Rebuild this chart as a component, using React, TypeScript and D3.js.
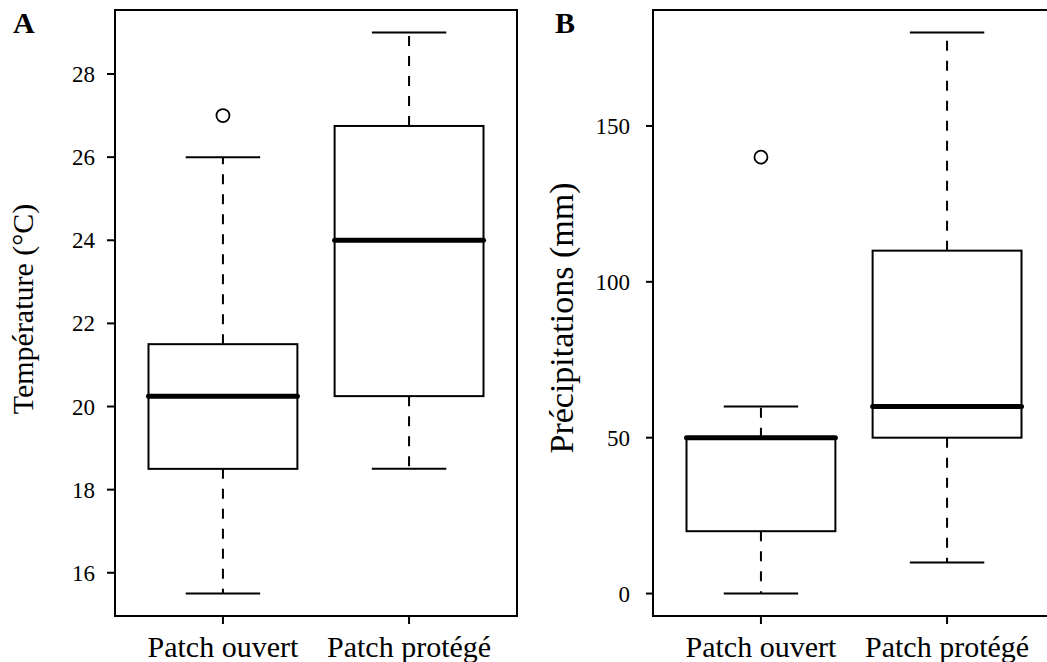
import React from "react";
import * as d3 from "d3";

const categories = ["Patch ouvert", "Patch protégé"];

// Panel A: Température (°C)
const tempLow = [15.5, 18.5];
const tempQ1 = [18.5, 20.25];
const tempMedian = [20.25, 24];
const tempQ3 = [21.5, 26.75];
const tempHigh = [26, 29];
const tempOutliers = [[27], []];
const tempTicks = [16, 18, 20, 22, 24, 26, 28];

// Panel B: Précipitations (mm)
const precLow = [0, 10];
const precQ1 = [20, 50];
const precMedian = [50, 60];
const precQ3 = [50, 110];
const precHigh = [60, 180];
const precOutliers = [[140], []];
const precTicks = [0, 50, 100, 150];

const FONT = "'Liberation Serif', 'Times New Roman', serif";

type PanelProps = {
  left: number;
  letter: string;
  letterX: number;
  title: string;
  titleX: number;
  titleY: number;
  titleSize: number;
  labelGap: number;
  tickStart: number;
  low: number[];
  q1: number[];
  med: number[];
  q3: number[];
  high: number[];
  outliers: number[][];
  ticks: number[];
};

function Panel(p: PanelProps) {
  const top = 10;
  const bottom = 616;
  const width = 402;
  const right = p.left + width;
  const allVals = [...p.low, ...p.high, ...p.outliers.flat()];
  const lo = d3.min(allVals) as number;
  const hi = d3.max(allVals) as number;
  const pad = (hi - lo) * 0.04;
  const y = d3.scaleLinear().domain([lo - pad, hi + pad]).range([bottom, top]);
  const x = d3.scaleLinear().domain([0.42, 2.58]).range([p.left, right]);
  const unit = x(1) - x(0);
  const boxHalf = 0.4 * unit;
  const capHalf = 0.2 * unit;

  return (
    <g>
      <text x={p.letterX} y={33} fontFamily={FONT} fontWeight="bold" fontSize={30}>
        {p.letter}
      </text>
      <text
        transform={`translate(${p.titleX},${p.titleY}) rotate(-90)`}
        textAnchor="middle"
        fontFamily={FONT}
        fontSize={p.titleSize}
      >
        {p.title}
      </text>
      {/* y axis */}
      {p.ticks.map((t) => (
        <g key={t}>
          <line x1={p.tickStart} x2={p.left} y1={y(t)} y2={y(t)} stroke="#000" strokeWidth={2} />
          <text
            x={p.left - p.labelGap}
            y={y(t)}
            dy="0.35em"
            textAnchor="end"
            fontFamily={FONT}
            fontSize={23}
          >
            {t}
          </text>
        </g>
      ))}
      {/* x axis */}
      {categories.map((c, i) => (
        <g key={c}>
          <line x1={x(i + 1)} x2={x(i + 1)} y1={bottom} y2={bottom + 8} stroke="#000" strokeWidth={2} />
          <text x={x(i + 1)} y={657} textAnchor="middle" fontFamily={FONT} fontSize={30}>
            {c}
          </text>
        </g>
      ))}
      {/* boxes */}
      {categories.map((c, i) => {
        const cx = x(i + 1);
        return (
          <g key={"b" + c}>
            <line x1={cx} x2={cx} y1={y(p.q3[i])} y2={y(p.high[i])} stroke="#000" strokeWidth={2} strokeDasharray="10,10" />
            <line x1={cx} x2={cx} y1={y(p.q1[i])} y2={y(p.low[i])} stroke="#000" strokeWidth={2} strokeDasharray="10,10" />
            <line x1={cx - capHalf} x2={cx + capHalf} y1={y(p.high[i])} y2={y(p.high[i])} stroke="#000" strokeWidth={2} />
            <line x1={cx - capHalf} x2={cx + capHalf} y1={y(p.low[i])} y2={y(p.low[i])} stroke="#000" strokeWidth={2} />
            <rect
              x={cx - boxHalf}
              y={y(p.q3[i])}
              width={boxHalf * 2}
              height={Math.max(0, y(p.q1[i]) - y(p.q3[i]))}
              fill="#fff"
              stroke="#000"
              strokeWidth={2}
            />
            <line
              x1={cx - boxHalf}
              x2={cx + boxHalf}
              y1={y(p.med[i])}
              y2={y(p.med[i])}
              stroke="#000"
              strokeWidth={5}
              strokeLinecap="round"
            />
            {p.outliers[i].map((o, k) => (
              <circle key={k} cx={cx} cy={y(o)} r={6.5} fill="none" stroke="#000" strokeWidth={1.8} />
            ))}
          </g>
        );
      })}
      <rect x={p.left} y={top} width={width} height={bottom - top} fill="none" stroke="#000" strokeWidth={2} />
    </g>
  );
}

export default function App() {
  return (
    <svg
      width={1047}
      height={662}
      style={{ position: "absolute", left: 0, top: 0, background: "#fff" }}
    >
      <rect width={1047} height={662} fill="#fff" />
      <Panel
        left={115}
        letter="A"
        letterX={13}
        title="Température (°C)"
        titleX={33}
        titleY={309}
        titleSize={30}
        labelGap={20}
        tickStart={107}
        low={tempLow}
        q1={tempQ1}
        med={tempMedian}
        q3={tempQ3}
        high={tempHigh}
        outliers={tempOutliers}
        ticks={tempTicks}
      />
      <Panel
        left={653}
        letter="B"
        letterX={555}
        title="Précipitations (mm)"
        titleX={573}
        titleY={318}
        titleSize={34}
        labelGap={23}
        tickStart={646}
        low={precLow}
        q1={precQ1}
        med={precMedian}
        q3={precQ3}
        high={precHigh}
        outliers={precOutliers}
        ticks={precTicks}
      />
    </svg>
  );
}
